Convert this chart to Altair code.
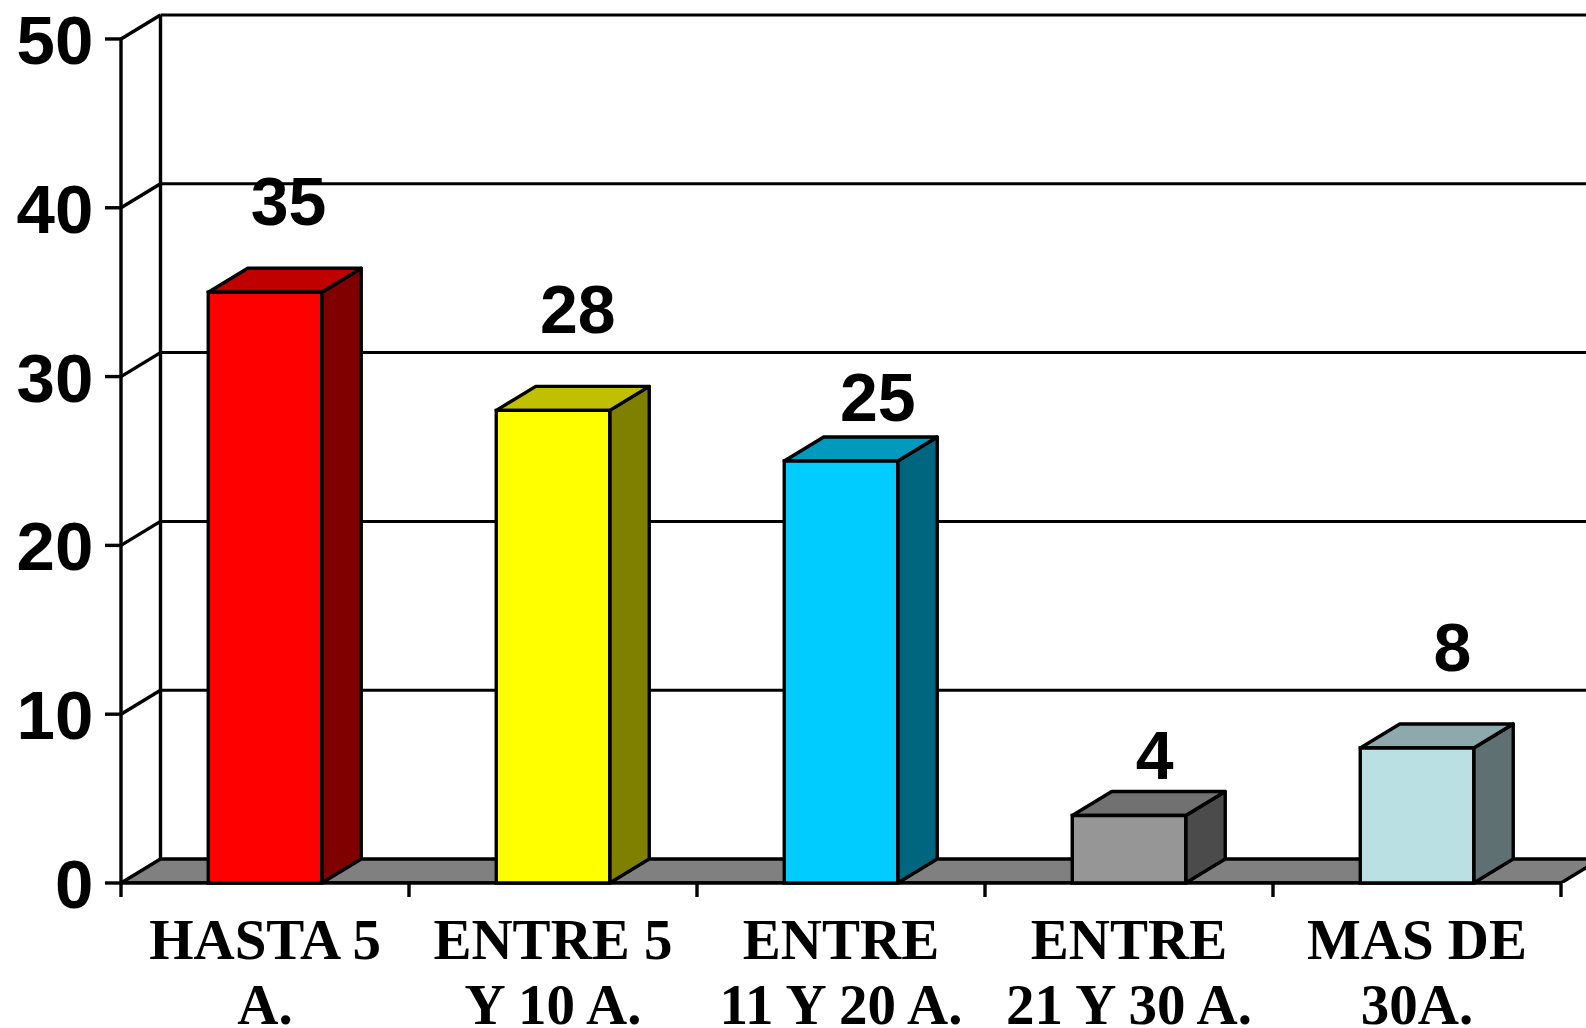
import altair as alt
import pandas as pd

# ---------------- data ----------------
categories = ["HASTA 5\nA.", "ENTRE 5\nY 10 A.", "ENTRE\n11 Y 20 A.", "ENTRE\n21 Y 30 A.", "MAS DE\n30A."]
values = [35, 28, 25, 4, 8]
front_colors = ["#FF0000", "#FFFF00", "#00CCFF", "#969696", "#BBE0E3"]
top_colors = ["#C00000", "#C0C000", "#009ABF", "#717171", "#8DA9AB"]
side_colors = ["#800000", "#808000", "#006680", "#4B4B4B", "#5E7072"]
y_ticks = [0, 10, 20, 30, 40, 50]

# label placement nudges (layout, not data)
label_lift = [4.0, 4.6, 2.35, 2.15, 4.55]        # value units above bar top
label_shift = [0.082, 0.086, 0.128, 0.089, 0.123]  # category units right of bar centre

# ---------------- layout ----------------
PX_PER_CAT = 288.0
PLOT_W = 1465
PLOT_H = 868
X_MAX = PLOT_W / PX_PER_CAT
Y_MAX = 51.42
DX = 39.5 / PX_PER_CAT      # depth offset (category units)
DY = 1.42                   # depth offset (value units)
BAR_W = 0.394
N = len(categories)
LW = 3.4

xs = alt.Scale(domain=[0, X_MAX], nice=False, zero=False)
ys = alt.Scale(domain=[0, Y_MAX], nice=False, zero=False)


def X(f):
    return alt.X(f, type="quantitative", scale=xs, axis=None)


def Y(f):
    return alt.Y(f, type="quantitative", scale=ys, axis=None)


# back wall grid lines
grid_df = pd.DataFrame({"y": [v + DY for v in y_ticks if v > 0], "x": DX, "x2": X_MAX})
grid = alt.Chart(grid_df).mark_rule(color="black", strokeWidth=3).encode(
    x=X("x"), x2="x2", y=Y("y"))

back_left = alt.Chart(pd.DataFrame({"x": [DX], "y": [DY], "y2": [50 + DY]})).mark_rule(
    color="black", strokeWidth=LW).encode(x=X("x"), y=Y("y"), y2="y2")

# side wall diagonals
diag_df = pd.DataFrame({"x": 0.0, "y": [v for v in y_ticks if v > 0],
                        "x2": DX, "y2": [v + DY for v in y_ticks if v > 0]})
diag = alt.Chart(diag_df).mark_rule(color="black", strokeWidth=LW).encode(
    x=X("x"), y=Y("y"), x2="x2", y2="y2")

# floor
floor_df = pd.DataFrame({"y": [0.0, DY], "x": [0.0, DX], "x2": [float(N), N + DX]})
floor = alt.Chart(floor_df).mark_area(
    orient="horizontal", fill="#808080", stroke="black", strokeWidth=LW,
    strokeJoin="round", clip=True).encode(y=Y("y"), x=X("x"), x2="x2")

# front axes
front_y = alt.Chart(pd.DataFrame({"x": [0.0], "y": [0.0], "y2": [50.0]})).mark_rule(
    color="black", strokeWidth=LW).encode(x=X("x"), y=Y("y"), y2="y2")
front_x = alt.Chart(pd.DataFrame({"x": [0.0], "x2": [float(N)], "y": [0.0]})).mark_rule(
    color="black", strokeWidth=LW).encode(x=X("x"), x2="x2", y=Y("y"))

ytick_df = pd.DataFrame({"y": y_ticks, "x": -16 / PX_PER_CAT, "x2": 0.0})
yticks = alt.Chart(ytick_df).mark_rule(color="black", strokeWidth=LW).encode(
    x=X("x"), x2="x2", y=Y("y"))
xtick_df = pd.DataFrame({"x": [float(i) for i in range(N + 1)], "y": 0.0, "y2": -0.83})
xticks = alt.Chart(xtick_df).mark_rule(color="black", strokeWidth=LW).encode(
    x=X("x"), y=Y("y"), y2="y2")

# bars
front_rows, top_rows, side_rows = [], [], []
for i, (c, v) in enumerate(zip(categories, values)):
    xl = i + 0.5 - BAR_W / 2
    xr = i + 0.5 + BAR_W / 2
    front_rows.append({"bar": i, "xl": xl, "xr": xr, "y0": 0.0, "v": v, "c": front_colors[i]})
    top_rows += [{"bar": i, "y": v, "x": xl, "x2": xr, "c": top_colors[i]},
                 {"bar": i, "y": v + DY, "x": xl + DX, "x2": xr + DX, "c": top_colors[i]}]
    side_rows += [{"bar": i, "x": xr, "y": 0.0, "y2": v, "c": side_colors[i]},
                  {"bar": i, "x": xr + DX, "y": DY, "y2": v + DY, "c": side_colors[i]}]

fronts = alt.Chart(pd.DataFrame(front_rows)).mark_rect(
    stroke="black", strokeWidth=LW).encode(
    x=X("xl"), x2="xr", y=Y("y0"), y2="v", fill=alt.Fill("c:N", scale=None))
tops = alt.Chart(pd.DataFrame(top_rows)).mark_area(
    orient="horizontal", stroke="black", strokeWidth=LW, strokeJoin="round").encode(
    y=Y("y"), x=X("x"), x2="x2", fill=alt.Fill("c:N", scale=None), detail="bar:N")
sides = alt.Chart(pd.DataFrame(side_rows)).mark_area(
    orient="vertical", stroke="black", strokeWidth=LW, strokeJoin="round").encode(
    x=X("x"), y=Y("y"), y2="y2", fill=alt.Fill("c:N", scale=None), detail="bar:N")

# value labels
vl_df = pd.DataFrame({"x": [i + 0.5 + label_shift[i] for i in range(N)],
                      "y": [values[i] + label_lift[i] for i in range(N)],
                      "t": [str(v) for v in values]})
vlabels = alt.Chart(vl_df).mark_text(
    font="Liberation Sans", fontWeight="bold", fontSize=68, align="center",
    baseline="alphabetic", color="black").encode(x=X("x"), y=Y("y"), text="t:N")

# y tick labels
yl_df = pd.DataFrame({"x": -27.7 / PX_PER_CAT, "y": y_ticks, "t": [str(v) for v in y_ticks]})
ylabels = alt.Chart(yl_df).mark_text(
    font="Liberation Sans", fontWeight="bold", fontSize=69, align="right",
    baseline="middle", dy=4, color="black").encode(x=X("x"), y=Y("y"), text="t:N")

# category labels
cl_df = pd.DataFrame({"x": [i + 0.5 for i in range(N)], "y": -4.48, "t": categories})
clabels = alt.Chart(cl_df).mark_text(
    font="Liberation Serif", fontWeight="bold", fontSize=57, align="center",
    baseline="alphabetic", lineBreak="\n", lineHeight=65, color="black").encode(
    x=X("x"), y=Y("y"), text="t:N")

chart = alt.layer(
    grid, back_left, diag, floor, front_y, front_x, yticks, xticks,
    sides, tops, fronts, vlabels, ylabels, clabels
).properties(
    width=PLOT_W, height=PLOT_H,
    autosize=alt.AutoSizeParams(type="none"),
    padding={"left": 121, "top": 15, "right": 0, "bottom": 145},
    background="white",
).configure_view(strokeWidth=0)

chart.save("out.html", embed_options={"renderer": "svg", "actions": False})
